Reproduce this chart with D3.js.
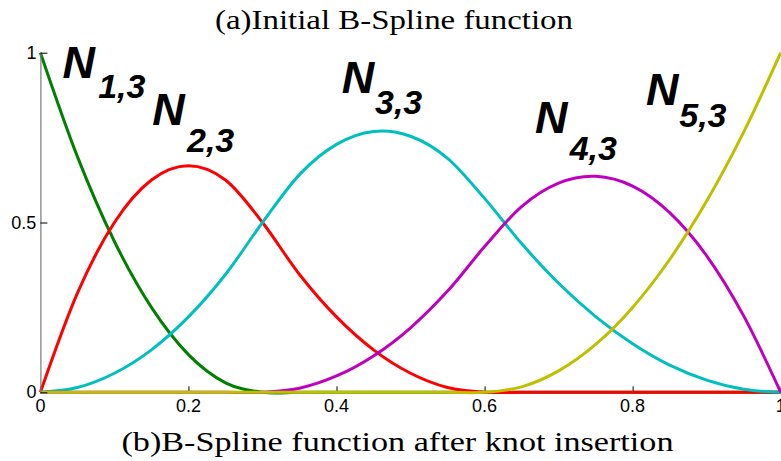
<!DOCTYPE html>
<html>
<head>
<meta charset="utf-8">
<script src="https://cdn.jsdelivr.net/npm/d3@7"></script>
<style>
  html, body { margin: 0; padding: 0; background: #fff; }
  svg { display: block; }
  .ticklab { font-family: 'Liberation Sans', Arial, sans-serif; font-size: 18px; fill: #000; }
</style>
</head>
<body>
<svg id="chart" width="781" height="461"></svg>
<script>
// Sample positions along the parameter axis
const xs = [0, 0.05, 0.1, 0.15, 0.2, 0.25, 0.3, 0.35, 0.4, 0.45, 0.5,
            0.55, 0.6, 0.65, 0.7, 0.75, 0.8, 0.85, 0.9, 0.95, 1];

// Quadratic basis function values at each sample
const n13 = [1, 0.694, 0.444, 0.25, 0.111, 0.028, 0, 0, 0, 0, 0,
             0, 0, 0, 0, 0, 0, 0, 0, 0, 0];
const n23 = [0, 0.292, 0.5, 0.625, 0.667, 0.625, 0.5, 0.347, 0.222, 0.125, 0.056,
             0.014, 0, 0, 0, 0, 0, 0, 0, 0, 0];
const n33 = [0, 0.014, 0.056, 0.125, 0.222, 0.347, 0.5, 0.641, 0.730, 0.768, 0.754,
             0.689, 0.571, 0.438, 0.321, 0.223, 0.143, 0.080, 0.036, 0.009, 0];
const n43 = [0, 0, 0, 0, 0, 0, 0, 0.012, 0.048, 0.107, 0.190,
             0.298, 0.429, 0.547, 0.616, 0.636, 0.607, 0.529, 0.402, 0.225, 0];
const n53 = [0, 0, 0, 0, 0, 0, 0, 0, 0, 0, 0,
             0, 0, 0.016, 0.063, 0.141, 0.25, 0.391, 0.563, 0.766, 1];

const seriesNames = ["N1,3", "N2,3", "N3,3", "N4,3", "N5,3"];
const seriesValues = [n13, n23, n33, n43, n53];

// Axis ticks
const xTicks = [0, 0.2, 0.4, 0.6, 0.8, 1];
const xTickLabels = ["0", "0.2", "0.4", "0.6", "0.8", "1"];
const yTicks = [0, 0.5, 1];
const yTickLabels = ["0", "0.5", "1"];

// Curve labels: main letter, subscript, and their anchors in data units
const labelMain = ["N", "N", "N", "N", "N"];
const labelSub = ["1,3", "2,3", "3,3", "4,3", "5,3"];
const labelAt = [[0.030, 0.926], [0.151, 0.788], [0.407, 0.882], [0.668, 0.764], [0.818, 0.846]];
const subAt = [[0.078, 0.866], [0.198, 0.708], [0.452, 0.819], [0.715, 0.684], [0.863, 0.782]];

const titleTop = "(a)Initial B-Spline function";
const titleBottom = "(b)B-Spline function after knot insertion";

// ---- drawing ----
const colors = ["#008000", "#ff0000", "#00bfbf", "#bf00bf", "#bfbf00"];
const svg = d3.select("#chart");

const x = d3.scaleLinear().domain([0, 1]).range([40.4, 780.7]);
const y = d3.scaleLinear().domain([0, 1]).range([392.3, 52.7]);

// Bottom axis: inward tick marks, no spine
const xAxis = svg.append("g")
  .attr("transform", `translate(0,${y(0)})`)
  .call(d3.axisBottom(x).tickValues(xTicks).tickSize(-6).tickSizeOuter(0).tickFormat(""));
xAxis.select(".domain").remove();
xAxis.selectAll(".tick line").attr("stroke", "#000");

// Curves (uniform Catmull-Rom keeps the quadratic pieces smooth through the samples)
const line = d3.line()
  .x(d => x(d[0]))
  .y(d => y(d[1]))
  .curve(d3.curveCatmullRom.alpha(0));

svg.append("g")
  .selectAll("path")
  .data(seriesValues.map((vals, i) => ({ name: seriesNames[i], pts: xs.map((v, j) => [v, vals[j]]) })))
  .join("path")
  .attr("d", d => line(d.pts))
  .attr("fill", "none")
  .attr("stroke", (d, i) => colors[i])
  .attr("stroke-width", 3)
  .attr("stroke-linejoin", "round");

// Left axis: grey spine, black inward ticks
const yAxis = svg.append("g")
  .attr("transform", `translate(${x(0)},0)`)
  .call(d3.axisLeft(y).tickValues(yTicks).tickSize(-7).tickSizeOuter(0).tickFormat(""));
yAxis.select(".domain").attr("stroke", "#7a7a7a").attr("stroke-width", 1.2);
yAxis.selectAll(".tick line").attr("stroke", "#000");

// Tick labels
svg.append("g").selectAll("text")
  .data(xTicks)
  .join("text")
  .attr("class", "ticklab")
  .attr("x", d => x(d))
  .attr("y", y(0) + 20)
  .attr("text-anchor", "middle")
  .text((d, i) => xTickLabels[i]);

svg.append("g").selectAll("text")
  .data(yTicks)
  .join("text")
  .attr("class", "ticklab")
  .attr("x", x(0) - 4)
  .attr("y", d => y(d) + 6)
  .attr("text-anchor", "end")
  .text((d, i) => yTickLabels[i]);

// Curve labels
const lab = svg.append("g")
  .attr("font-family", "'Liberation Sans', Arial, sans-serif")
  .attr("font-weight", "bold")
  .attr("font-style", "italic")
  .attr("fill", "#000");
labelMain.forEach((t, i) => {
  lab.append("text")
    .attr("x", x(labelAt[i][0]))
    .attr("y", y(labelAt[i][1]))
    .attr("font-size", 45)
    .text(t);
  lab.append("text")
    .attr("x", x(subAt[i][0]))
    .attr("y", y(subAt[i][1]))
    .attr("font-size", 34)
    .text(labelSub[i]);
});

// Captions
const serif = "'Liberation Serif', 'Times New Roman', serif";
svg.append("text")
  .attr("x", 394).attr("y", 29)
  .attr("text-anchor", "middle")
  .attr("font-family", serif)
  .attr("font-size", 27)
  .attr("textLength", 358)
  .attr("lengthAdjust", "spacingAndGlyphs")
  .text(titleTop);
svg.append("text")
  .attr("x", 397.5).attr("y", 451)
  .attr("text-anchor", "middle")
  .attr("font-family", serif)
  .attr("font-size", 27)
  .attr("textLength", 552)
  .attr("lengthAdjust", "spacingAndGlyphs")
  .text(titleBottom);
</script>
</body>
</html>
